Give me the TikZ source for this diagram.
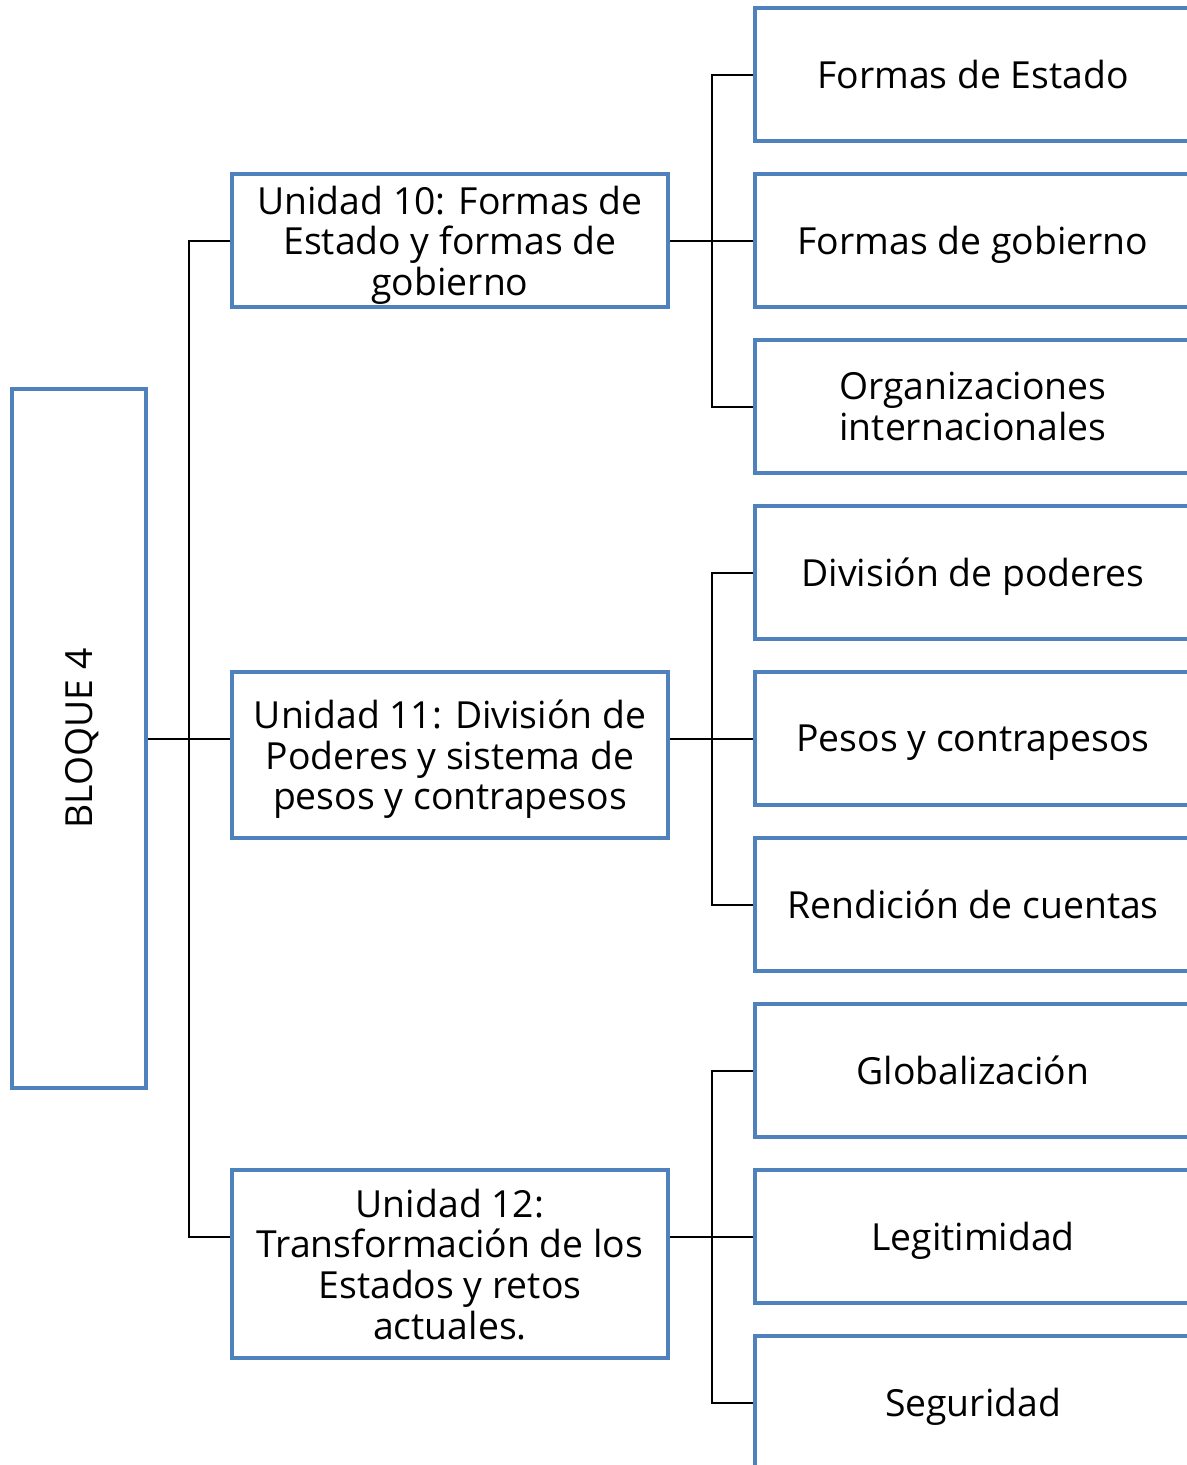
\documentclass[tikz,border=0pt]{standalone}
\usepackage{fontspec}
\setmainfont{Open Sans}
\definecolor{boxblue}{HTML}{4F81BD}
\begin{document}
\begin{tikzpicture}[x=0.75pt,y=-0.75pt,
  box/.style={draw=boxblue, line width=3pt, fill=white, align=center, inner sep=0pt,
    text depth=0pt, font=\fontsize{28}{30.4}\selectfont},
  midbox/.style={box, minimum width=327pt},
  rightbox/.style={box, minimum width=327pt, minimum height=99.75pt},
  conn/.style={draw=black, line width=1.5pt}]
\useasboundingbox (0,0) rectangle (1187,1465);
\clip (0,0) rectangle (1187,1465);

% root
\node[box, minimum width=524.25pt, minimum height=100.5pt, rotate=90] (b) at (79,738.5) {BLOQUE 4};

% units
\node[midbox, minimum height=99.75pt] (u10) at (450,240.5) {Unidad 10: Formas de\\Estado y formas de\\gobierno};
\node[midbox, minimum height=124.5pt] (u11) at (450,755) {Unidad 11: División de\\Poderes y sistema de\\pesos y contrapesos};
\node[midbox, minimum height=141pt] (u12) at (450,1264) {Unidad 12:\\Transformación de los\\Estados y retos\\actuales.};

% topics
\node[rightbox] (r1) at (973,74.5) {Formas de Estado};
\node[rightbox] (r2) at (973,240.5) {Formas de gobierno};
\node[rightbox] (r3) at (973,406.5) {Organizaciones\\internacionales};
\node[rightbox] (r4) at (973,572.5) {División de poderes};
\node[rightbox] (r5) at (973,738.5) {Pesos y contrapesos};
\node[rightbox] (r6) at (973,904.5) {Rendición de cuentas};
\node[rightbox] (r7) at (973,1070.5) {Globalización};
\node[rightbox] (r8) at (973,1236.5) {Legitimidad};
\node[rightbox] (r9) at (973,1402.5) {Seguridad};

% junctions
\coordinate (j0) at (189,738.5);
\coordinate (j1) at (712,240.5);
\coordinate (j2) at (712,738.5);
\coordinate (j3) at (712,1236.5);

% root connectors
\draw[conn] (b.south) -- (j0);
\draw[conn] (j0) |- (u10.west);
\draw[conn] (j0) -- (j0 -| u11.west);
\draw[conn] (j0) |- (u12.west |- r8.west);

% unit 10 connectors
\draw[conn] (u10.east) -- (j1);
\draw[conn] (j1) |- (r1.west);
\draw[conn] (j1) -- (r2.west);
\draw[conn] (j1) |- (r3.west);

% unit 11 connectors
\draw[conn] (u11.east |- r5.west) -- (j2);
\draw[conn] (j2) |- (r4.west);
\draw[conn] (j2) -- (r5.west);
\draw[conn] (j2) |- (r6.west);

% unit 12 connectors
\draw[conn] (u12.east |- r8.west) -- (j3);
\draw[conn] (j3) |- (r7.west);
\draw[conn] (j3) -- (r8.west);
\draw[conn] (j3) |- (r9.west);
\end{tikzpicture}
\end{document}
